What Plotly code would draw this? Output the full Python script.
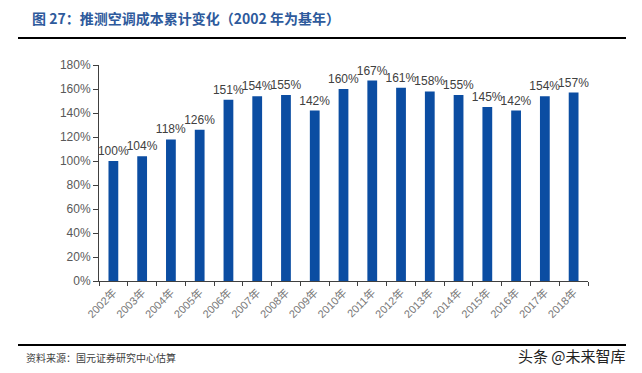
import plotly.graph_objects as go

years = ["2002年","2003年","2004年","2005年","2006年","2007年","2008年","2009年","2010年",
         "2011年","2012年","2013年","2014年","2015年","2016年","2017年","2018年"]
values = [100,104,118,126,151,154,155,142,160,167,161,158,155,145,142,154,157]
labels = [f"{v}%" for v in values]
yticks = [0,20,40,60,80,100,120,140,160,180]
ytick_text = [f"{v}%" for v in yticks]

OFF = 8  # page body margin
W, H = 642 - OFF, 373 - OFF
def px(x): return (x - OFF) / W
def py(y): return 1 - (y - OFF) / H

FONT = "Liberation Sans, Arial, Noto Sans CJK SC, sans-serif"
CJK = "Noto Sans CJK SC, sans-serif"

fig = go.Figure(go.Bar(
    x=years, y=values, text=labels, textposition="outside", constraintext="none",
    textfont=dict(family=FONT, size=12, color="#404040"),
    marker=dict(color="#0B4DA2", line=dict(width=0)),
    width=0.34, cliponaxis=False,
))

fig.update_layout(
    width=W, height=H, margin=dict(l=0, r=0, t=0, b=0),
    paper_bgcolor="white", plot_bgcolor="white", showlegend=False,
    xaxis=dict(domain=[px(99), px(588)], tickangle=-45, ticks="outside", tickson="boundaries",
               ticklen=4, tickcolor="#404040", showline=True, linecolor="#404040", linewidth=1,
               tickfont=dict(family=FONT, size=11, color="#777777"), automargin=False),
    yaxis=dict(domain=[py(281), py(65)], range=[0,180], tickvals=yticks, ticktext=ytick_text,
               ticks="outside", ticklen=5, tickcolor="#404040", showline=True, linecolor="#404040",
               linewidth=1, showgrid=False, zeroline=False,
               tickfont=dict(family=FONT, size=12, color="#595959"), automargin=False),
    shapes=[
        dict(type="line", xref="paper", yref="paper", x0=px(18), x1=px(626), y0=py(38), y1=py(38),
             line=dict(color="black", width=2)),
        dict(type="line", xref="paper", yref="paper", x0=px(18), x1=px(626), y0=py(345), y1=py(345),
             line=dict(color="black", width=2)),
    ],
    annotations=[
        dict(text="<b>图 27：推测空调成本累计变化（2002 年为基年）</b>", xref="paper", yref="paper",
             x=px(30), y=py(18), xanchor="left", yanchor="middle", showarrow=False,
             font=dict(family=CJK, size=14, color="#2E5A9C")),
        dict(text="资料来源：国元证券研究中心估算", xref="paper", yref="paper",
             x=px(24), y=py(357), xanchor="left", yanchor="middle", showarrow=False,
             font=dict(family=CJK, size=10, color="#404040")),
        dict(text="头条 @未来智库", xref="paper", yref="paper",
             x=px(628), y=py(355), xanchor="right", yanchor="middle", showarrow=False,
             font=dict(family=CJK, size=15, color="#222222")),
    ],
)

fig.write_html("out.html")
